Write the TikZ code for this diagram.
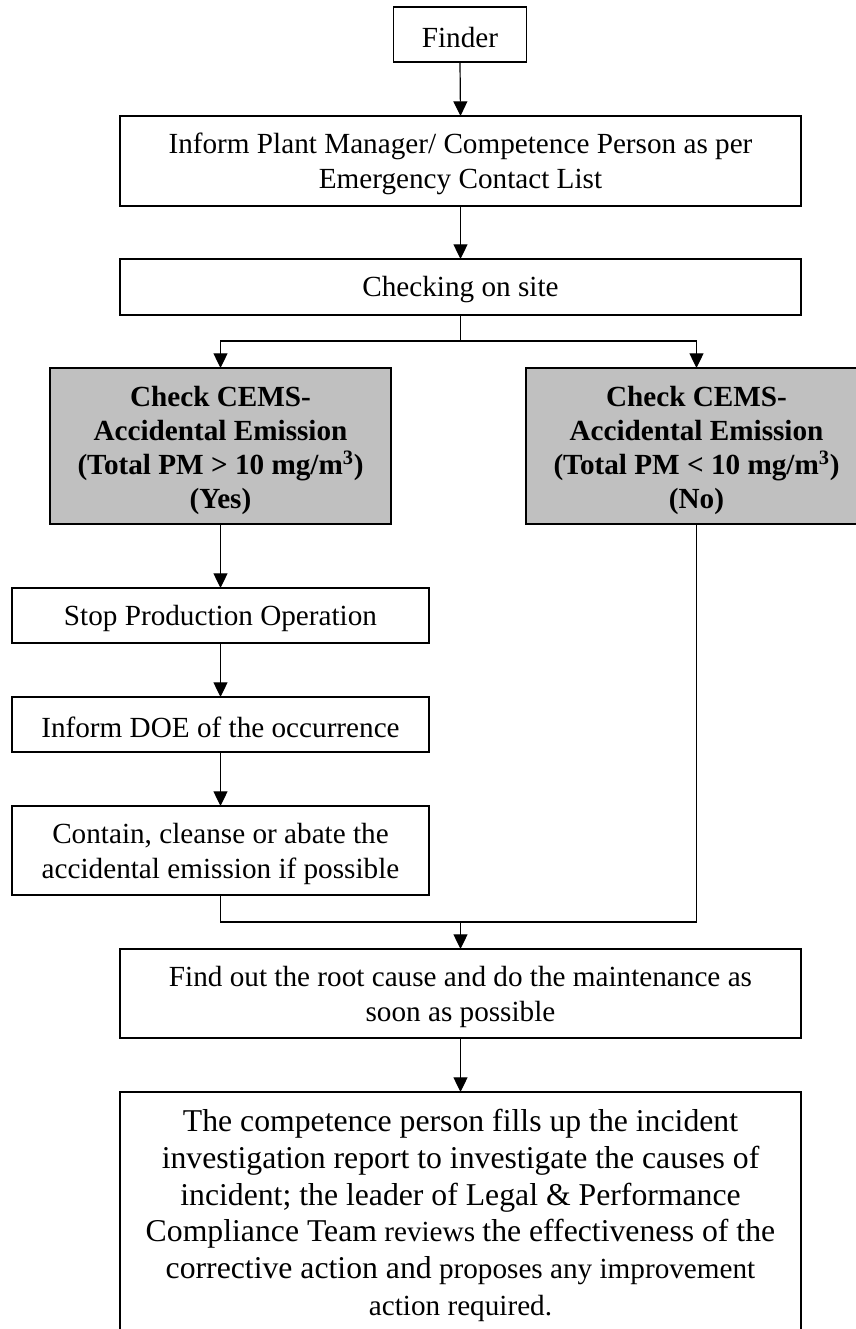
\documentclass[tikz,border=0pt]{standalone}
\usepackage{fontspec}
\setmainfont{Liberation Serif}
\usetikzlibrary{arrows.meta}
\definecolor{boxgray}{RGB}{192,192,192}
\newcommand{\Lgf}{\fontsize{23.8}{27.5}\selectfont}
\newcommand{\tstrut}[1]{\rule{0pt}{#1}}
\begin{document}
\begin{tikzpicture}[x=0.75pt,y=-0.75pt,
  box/.style={draw, line width=1.3pt, inner sep=0pt, outer sep=0pt, align=center,
    font=\fontsize{21.9}{26.3}\selectfont},
  graybox/.style={box, fill=boxgray, font=\bfseries\fontsize{21.9}{25.5}\selectfont},
  arr/.style={line width=0.9pt, -{Triangle[length=11pt,width=10.5pt]}},
  ln/.style={line width=0.9pt}]
\useasboundingbox (0,0) rectangle (856,1329);
\clip (0,0) rectangle (856,1329);

\node[box, minimum width=99.75pt, minimum height=41.25pt] (finder) at (460,34.5) {\tstrut{19.5pt}Finder};
\node[box, minimum width=510.75pt, minimum height=67.5pt] (inform) at (460.5,161)
  {\tstrut{19.6pt}Inform Plant Manager/ Competence Person as per\\Emergency Contact List};
\node[box, minimum width=510.75pt, minimum height=42pt] (check) at (460.5,287) {\tstrut{19.5pt}Checking on site};
\node[graybox, minimum width=255.75pt, minimum height=117pt] (yes) at (220.5,446)
  {\tstrut{22.6pt}Check CEMS-\\Accidental Emission\\(Total PM > 10 mg/m\textsuperscript{3})\\(Yes)};
\node[graybox, minimum width=255.75pt, minimum height=117pt] (no) at (696.5,446)
  {\tstrut{22.6pt}Check CEMS-\\Accidental Emission\\(Total PM < 10 mg/m\textsuperscript{3})\\(No)};
\node[box, minimum width=312.75pt, minimum height=41.25pt] (stop) at (220.5,615.5) {\tstrut{19.5pt}Stop Production Operation};
\node[box, minimum width=312.75pt, minimum height=41.25pt] (doe) at (220.5,724.5) {\tstrut{19.5pt}Inform DOE of the occurrence};
\node[box, minimum width=312.75pt, minimum height=66.75pt] (contain) at (220.5,850.5)
  {\tstrut{20pt}Contain, cleanse or abate the\\accidental emission if possible};
\node[box, minimum width=510.75pt, minimum height=66.75pt] (root) at (460.5,993.5)
  {\tstrut{20pt}Find out the root cause and do the maintenance as\\soon as possible};
\node[box, draw=none, anchor=north, minimum width=510.75pt, minimum height=185pt,
  font=\fontsize{21.9}{27.5}\selectfont] (final) at (460.5,1092)
  {{\Lgf The competence person fills up the incident}\\
   {\Lgf investigation report to investigate the causes of}\\
   {\Lgf incident; the leader of Legal \& Performance}\\
   {\Lgf Compliance Team} reviews {\Lgf the effectiveness of the}\\
   {\Lgf corrective action and} proposes any improvement\\
   action required.};
\draw[line width=1.3pt] (final.south west) |- (final.north) -| (final.south east);

\coordinate (fork) at (460.5,341);
\coordinate (join) at (460.5,922);
\draw[arr] (finder.south) -- (inform.north);
\draw[arr] (inform.south) -- (check.north);
\draw[ln] (check.south) -- (fork);
\draw[arr] (fork) -| (yes.north);
\draw[arr] (fork) -| (no.north);
\draw[arr] (yes.south) -- (stop.north);
\draw[arr] (stop.south) -- (doe.north);
\draw[arr] (doe.south) -- (contain.north);
\draw[ln] (contain.south) |- (join);
\draw[ln] (no.south) |- (join);
\draw[arr] (join) -- (root.north);
\draw[arr] (root.south) -- (final.north);
\end{tikzpicture}
\end{document}
